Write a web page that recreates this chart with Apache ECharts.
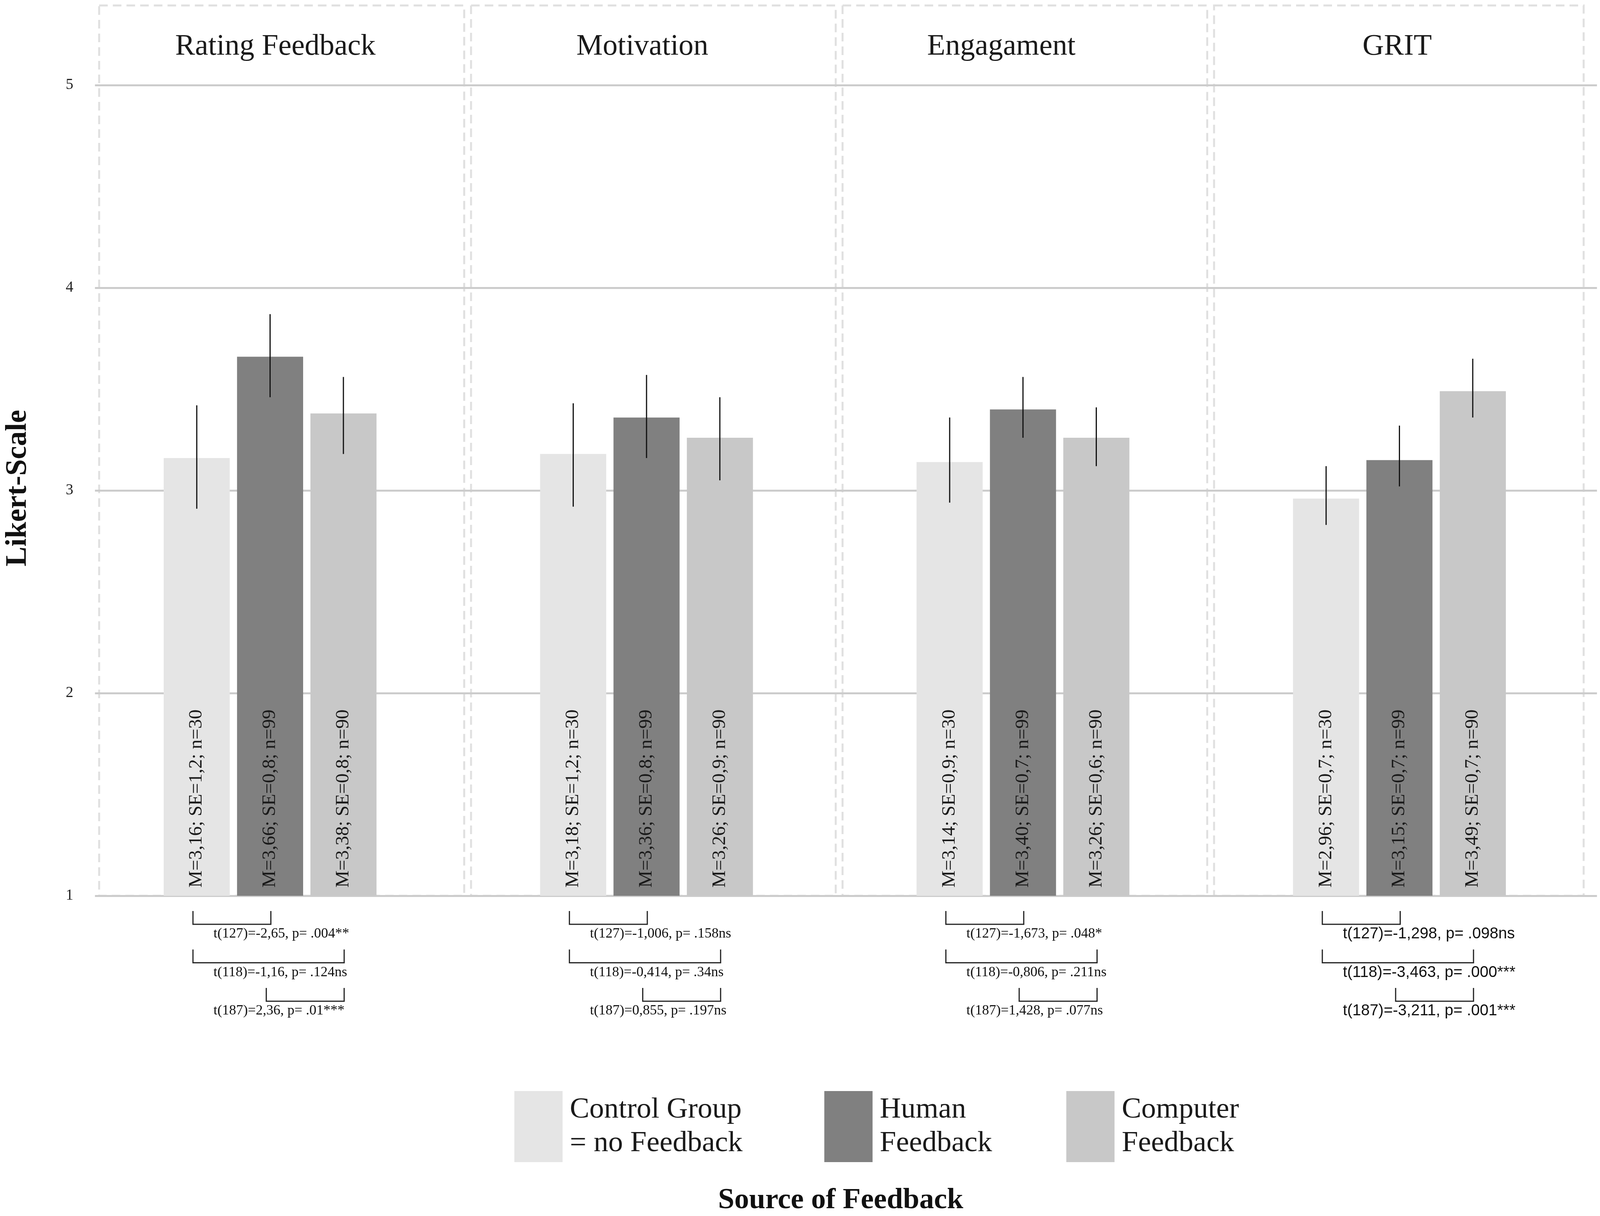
<!DOCTYPE html>
<html>
<head>
<meta charset="utf-8">
<script src="https://cdn.jsdelivr.net/npm/echarts@6/dist/echarts.min.js"></script>
<style>
html, body { margin: 0; padding: 0; background: #fff; overflow: hidden; }
#main { width: 100vw; height: 100vh; }
</style>
</head>
<body>
<div id="main"></div>
<script>
// facets (one panel per measure)
var panels = ['Rating Feedback', 'Motivation', 'Engagament', 'GRIT'];
var groups = ['Control Group\n= no Feedback', 'Human\nFeedback', 'Computer\nFeedback'];

// means per panel
var controlMean = [3.16, 3.18, 3.14, 2.96];
var humanMean = [3.66, 3.36, 3.40, 3.15];
var computerMean = [3.38, 3.26, 3.26, 3.49];

// standard errors and sample sizes as printed in the bars
var controlSE = [1.2, 1.2, 0.9, 0.7];
var humanSE = [0.8, 0.8, 0.7, 0.7];
var computerSE = [0.8, 0.9, 0.6, 0.7];
var groupN = [30, 99, 90];

// error bar ends
var controlLow = [2.91, 2.92, 2.94, 2.83];
var controlHigh = [3.42, 3.43, 3.36, 3.12];
var humanLow = [3.46, 3.16, 3.26, 3.02];
var humanHigh = [3.87, 3.57, 3.56, 3.32];
var computerLow = [3.18, 3.05, 3.12, 3.36];
var computerHigh = [3.56, 3.46, 3.41, 3.65];

var yTicks = [1, 2, 3, 4, 5];

// t-tests under each panel: pairs of groups and text
var testPairs = [[0, 1], [0, 2], [1, 2]];
var testText = [
    ['t(127)=-2,65, p= .004**', 't(118)=-1,16, p= .124ns', 't(187)=2,36, p= .01***'],
    ['t(127)=-1,006, p= .158ns', 't(118)=-0,414, p= .34ns', 't(187)=0,855, p= .197ns'],
    ['t(127)=-1,673, p= .048*', 't(118)=-0,806, p= .211ns', 't(187)=1,428, p= .077ns'],
    ['t(127)=-1,298, p= .098ns', 't(118)=-3,463, p= .000***', 't(187)=-3,211, p= .001***']
];

var means = [controlMean, humanMean, computerMean];
var ses = [controlSE, humanSE, computerSE];
var lows = [controlLow, humanLow, computerLow];
var highs = [controlHigh, humanHigh, computerHigh];

var colors = ['#e5e5e5', '#808080', '#c8c8c8'];
var serif = 'Liberation Serif, Times New Roman, serif';
var sans = 'Liberation Sans, Arial, sans-serif';

var el = document.getElementById('main');
var myChart = echarts.init(el, null, { renderer: 'canvas' });

// layout was measured on a 4212 x 3114 picture; scale to the real canvas
var W = myChart.getWidth(), H = myChart.getHeight();
var sx = W / 4212, sy = H / 3114;
var fs = Math.min(1, (sx + sy) / 2);
function X(v) { return v * sx; }
function Y(v) { return v * sy; }
function F(v) { return Math.round(v * fs); }

var barWidth = X(174);
var barStep = X(193);

function comma(v, d) {
    return v.toFixed(d).replace('.', ',');
}

var series = [];
groups.forEach(function (g, gi) {
    series.push({
        name: g,
        type: 'bar',
        xAxisIndex: 1,
        yAxisIndex: 1,
        barWidth: barWidth,
        barGap: '11%',
        clip: true,
        itemStyle: { color: colors[gi] },
        label: {
            show: true,
            position: 'insideBottom',
            rotate: 90,
            align: 'left',
            verticalAlign: 'middle',
            distance: Y(21),
            fontFamily: serif,
            fontSize: Math.round(49 * sy),
            color: '#1a1a1a',
            formatter: function (p) {
                return 'M=' + comma(means[gi][p.dataIndex], 2) + '; SE=' + comma(ses[gi][p.dataIndex], 1) + '; n=' + groupN[gi];
            }
        },
        emphasis: { disabled: true },
        data: means[gi]
    });
});

var errData = [];
for (var gi = 0; gi < 3; gi++) {
    for (var pi = 0; pi < panels.length; pi++) {
        errData.push([pi, gi, lows[gi][pi], highs[gi][pi]]);
    }
}
series.push({
    type: 'custom',
    name: 'error',
    xAxisIndex: 1,
    yAxisIndex: 1,
    z: 5,
    silent: true,
    encode: { x: 0, y: [2, 3] },
    renderItem: function (params, api) {
        var p = api.value(0), g = api.value(1);
        var top = api.coord([p, api.value(3)]);
        var bot = api.coord([p, api.value(2)]);
        var x = top[0] + (g - 1) * barStep;
        return {
            type: 'line',
            shape: { x1: x, y1: top[1], x2: x, y2: bot[1] },
            style: { stroke: '#111', lineWidth: 3 }
        };
    },
    data: errData
});

var testData = [];
for (var p = 0; p < panels.length; p++) {
    for (var r = 0; r < 3; r++) testData.push([p, r]);
}
series.push({
    type: 'custom',
    name: 'tests',
    xAxisIndex: 1,
    yAxisIndex: 1,
    silent: true,
    clip: false,
    encode: { x: 0 },
    renderItem: function (params, api) {
        var p = api.value(0), r = api.value(1);
        var base = api.coord([p, 1]);
        var cx = base[0], y0 = base[1];
        var pair = testPairs[r];
        var xa = cx + (pair[0] - 1) * barStep - X(10);
        var xb = cx + (pair[1] - 1) * barStep + X(2);
        var top = y0 + Y(39 + r * 98.5);
        var bottom = top + Y(34);
        return {
            type: 'group',
            children: [{
                type: 'polyline',
                shape: { points: [[xa, top], [xa, bottom], [xb, bottom], [xb, top]] },
                style: { stroke: '#222', lineWidth: 3, fill: null }
            }, {
                type: 'text',
                x: cx - barStep + X(44),
                y: bottom + Y(25),
                style: {
                    text: testText[p][r],
                    fontFamily: p === 3 ? sans : serif,
                    fontSize: p === 3 ? F(41) : F(37),
                    fill: '#111',
                    align: 'left',
                    verticalAlign: 'middle'
                }
            }]
        };
    },
    data: testData
});

// dashed facet frames and texts
var frames = [[261, 1222], [1240, 2200], [2218, 3178], [3196, 4169]];
var titleX = [725, 1691, 2636, 3678];
var graphics = [];
frames.forEach(function (f) {
    graphics.push({
        type: 'rect',
        z: -1,
        shape: { x: X(f[0]), y: Y(14), width: X(f[1] - f[0]), height: Y(2294 - 14) },
        style: { fill: null, stroke: '#e0e0e0', lineWidth: 5, lineDash: [22, 13] }
    });
});
panels.forEach(function (name, i) {
    graphics.push({
        type: 'text',
        x: X(titleX[i]),
        y: Y(120),
        style: { text: name, fontFamily: serif, fontSize: F(77), fill: '#1a1a1a', align: 'center', verticalAlign: 'middle' }
    });
});
graphics.push({
    type: 'text',
    x: X(48),
    y: Y(1250),
    rotation: Math.PI / 2,
    style: { text: 'Likert-Scale', fontFamily: serif, fontWeight: 'bold', fontSize: Math.round(76 * sy), fill: '#111', align: 'center', verticalAlign: 'middle' }
});
graphics.push({
    type: 'text',
    x: X(2213),
    y: Y(3075),
    style: { text: 'Source of Feedback', fontFamily: serif, fontWeight: 'bold', fontSize: F(76), fill: '#111', align: 'center', verticalAlign: 'middle' }
});

var legendLeft = [1354, 2170, 2807];

var option = {
    backgroundColor: '#ffffff',
    animation: false,
    grid: [
        { left: X(250), right: X(8), top: Y(218), bottom: Y(820), outerBoundsMode: 'none' },
        { left: X(215.5), right: X(32.5), top: Y(218), bottom: Y(820), outerBoundsMode: 'none' }
    ],
    xAxis: [
        { type: 'value', gridIndex: 0, min: 0, max: 1, show: false },
        { type: 'category', gridIndex: 1, data: panels, show: false }
    ],
    yAxis: [{
        type: 'value',
        gridIndex: 0,
        min: yTicks[0],
        max: yTicks[yTicks.length - 1],
        interval: 1,
        axisLine: { show: false },
        axisTick: { show: false },
        axisLabel: { margin: X(57), fontFamily: serif, fontSize: F(40), color: '#222' },
        splitLine: { show: true, lineStyle: { color: '#cccccc', width: 5 } }
    }, {
        type: 'value',
        gridIndex: 1,
        min: yTicks[0],
        max: yTicks[yTicks.length - 1],
        startValue: 1,
        show: false,
        splitLine: { show: false }
    }],
    legend: groups.map(function (g, i) {
        return {
            data: [g],
            left: X(legendLeft[i]),
            top: Y(2794),
            padding: 0,
            icon: 'rect',
            itemWidth: X(127),
            itemHeight: Y(182),
            selectedMode: false,
            textStyle: { fontFamily: serif, fontSize: F(76), lineHeight: Y(86), color: '#1a1a1a', padding: [0, 0, 0, X(14)] }
        };
    }),
    graphic: graphics,
    series: series
};

if (option && typeof option === 'object') {
    myChart.setOption(option);
}

window.addEventListener('resize', myChart.resize);
</script>
</body>
</html>
